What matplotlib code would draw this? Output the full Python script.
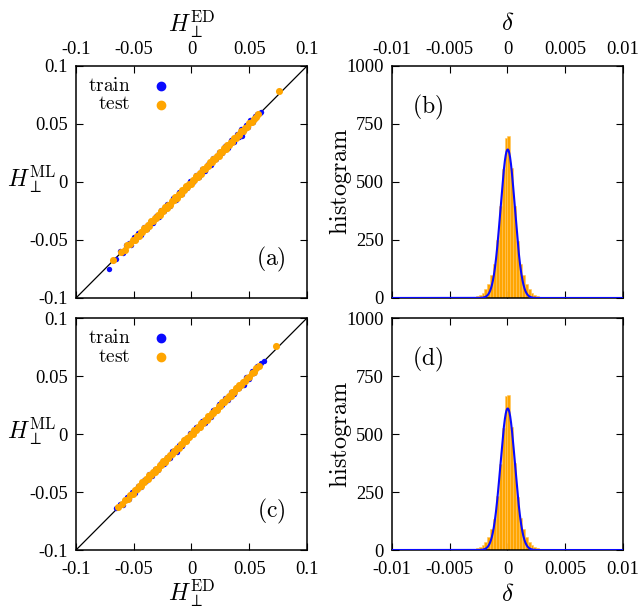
import numpy as np
import matplotlib
matplotlib.use("Agg")
import matplotlib.pyplot as plt

plt.rcParams['font.family'] = 'serif'
plt.rcParams['font.serif'] = ['Liberation Serif']
plt.rcParams['mathtext.fontset'] = 'cm'

# ---- scatter data: H_perp from ED and deviation ML - ED ----
ed_test_a = [-0.0676, -0.0610, -0.0580, -0.0555, -0.0530, -0.0510, -0.0490, -0.0470, -0.0455, -0.0440,
             -0.0425, -0.0410, -0.0395, -0.0380, -0.0365, -0.0350, -0.0335, -0.0320, -0.0305, -0.0290,
             -0.0275, -0.0260, -0.0245, -0.0230, -0.0215, -0.0200, -0.0185, -0.0170, -0.0155, -0.0140,
             -0.0125, -0.0110, -0.0095, -0.0080, -0.0065, -0.0050, -0.0035, -0.0020, -0.0005, 0.0010,
             0.0025, 0.0040, 0.0055, 0.0070, 0.0085, 0.0100, 0.0115, 0.0130, 0.0145, 0.0160,
             0.0175, 0.0190, 0.0205, 0.0220, 0.0235, 0.0250, 0.0265, 0.0280, 0.0295, 0.0310,
             0.0325, 0.0340, 0.0355, 0.0370, 0.0385, 0.0400, 0.0415, 0.0430, 0.0445, 0.0460,
             0.0480, 0.0500, 0.0520, 0.0540, 0.0560, 0.0580, 0.0755]
dev_test_a = [0.0000, 0.0006, -0.0008, 0.0009, -0.0006, 0.0011, -0.0010, 0.0004, -0.0012, 0.0009,
              -0.0003, 0.0012, -0.0008, 0.0006, -0.0011, 0.0010, -0.0005, 0.0013, -0.0009, 0.0003,
              -0.0012, 0.0009, -0.0007, 0.0012, -0.0010, 0.0005, -0.0013, 0.0008, -0.0004, 0.0011,
              -0.0009, 0.0007, -0.0012, 0.0010, -0.0006, 0.0012, -0.0008, 0.0004, -0.0011, 0.0009,
              -0.0007, 0.0012, -0.0010, 0.0006, -0.0012, 0.0008, -0.0005, 0.0011, -0.0009, 0.0010,
              -0.0006, 0.0012, -0.0010, 0.0005, -0.0011, 0.0009, -0.0008, 0.0011, -0.0007, 0.0010,
              -0.0009, 0.0006, -0.0010, 0.0008, -0.0005, 0.0009, -0.0007, 0.0006, -0.0008, 0.0005,
              -0.0006, 0.0007, -0.0004, 0.0006, 0.0003, 0.0008, 0.0031]
ed_train_a = [-0.0711, -0.0650, -0.0620, -0.0590, -0.0565, -0.0545, -0.0520, -0.0500, -0.0480, -0.0460,
              -0.0435, -0.0410, -0.0385, -0.0360, -0.0335, -0.0310, -0.0285, -0.0260, -0.0235, -0.0210,
              -0.0185, -0.0160, -0.0135, -0.0110, -0.0085, -0.0060, -0.0035, -0.0010, 0.0015, 0.0040,
              0.0065, 0.0090, 0.0115, 0.0140, 0.0165, 0.0190, 0.0215, 0.0240, 0.0265, 0.0290,
              0.0315, 0.0340, 0.0365, 0.0390, 0.0410, 0.0430, 0.0450, 0.0470, 0.0490, 0.0510,
              0.0530, 0.0550, 0.0570, 0.0590, 0.0605, 0.0440]
dev_train_a = [-0.0035, -0.0010, 0.0024, -0.0020, 0.0022, 0.0018, -0.0021, 0.0023, -0.0014, 0.0020,
               -0.0019, 0.0021, -0.0018, 0.0019, -0.0020, 0.0018, -0.0019, 0.0020, -0.0018, 0.0019,
               -0.0020, 0.0018, -0.0019, 0.0020, -0.0018, 0.0019, -0.0020, 0.0018, -0.0019, 0.0020,
               -0.0018, 0.0019, -0.0020, 0.0018, -0.0019, 0.0020, -0.0018, 0.0021, -0.0019, 0.0022,
               -0.0020, 0.0023, -0.0021, 0.0024, -0.0022, 0.0026, -0.0023, 0.0025, -0.0020, 0.0022,
               -0.0017, 0.0020, 0.0014, 0.0008, 0.0002, -0.0042]

ed_test_c = [-0.0640, -0.0600, -0.0575, -0.0550, -0.0530, -0.0510, -0.0490, -0.0470, -0.0455, -0.0440,
             -0.0425, -0.0410, -0.0395, -0.0380, -0.0365, -0.0350, -0.0335, -0.0320, -0.0305, -0.0290,
             -0.0275, -0.0260, -0.0245, -0.0230, -0.0215, -0.0200, -0.0185, -0.0170, -0.0155, -0.0140,
             -0.0125, -0.0110, -0.0095, -0.0080, -0.0065, -0.0050, -0.0035, -0.0020, -0.0005, 0.0010,
             0.0025, 0.0040, 0.0055, 0.0070, 0.0085, 0.0100, 0.0115, 0.0130, 0.0145, 0.0160,
             0.0175, 0.0190, 0.0205, 0.0220, 0.0235, 0.0250, 0.0265, 0.0280, 0.0295, 0.0310,
             0.0325, 0.0340, 0.0355, 0.0370, 0.0385, 0.0400, 0.0415, 0.0430, 0.0445, 0.0460,
             0.0480, 0.0500, 0.0520, 0.0540, 0.0560, 0.0585, 0.0733]
dev_test_c = [0.0008, -0.0004, 0.0009, -0.0006, 0.0008, -0.0009, 0.0005, -0.0008, 0.0009, -0.0005,
              0.0010, -0.0007, 0.0006, -0.0009, 0.0008, -0.0004, 0.0010, -0.0008, 0.0004, -0.0010,
              0.0008, -0.0006, 0.0010, -0.0009, 0.0005, -0.0010, 0.0007, -0.0004, 0.0009, -0.0008,
              0.0006, -0.0010, 0.0009, -0.0005, 0.0010, -0.0007, 0.0004, -0.0009, 0.0008, -0.0006,
              0.0010, -0.0008, 0.0006, -0.0010, 0.0007, -0.0005, 0.0009, -0.0008, 0.0009, -0.0005,
              0.0010, -0.0009, 0.0005, -0.0010, 0.0008, -0.0007, 0.0010, -0.0006, 0.0009, -0.0008,
              0.0006, -0.0009, 0.0007, -0.0005, 0.0008, -0.0006, 0.0006, -0.0007, 0.0005, -0.0006,
              0.0007, -0.0005, 0.0008, -0.0004, 0.0006, 0.0003, 0.0023]
ed_train_c = [-0.0650, -0.0615, -0.0590, -0.0560, -0.0540, -0.0515, -0.0490, -0.0465, -0.0440, -0.0415,
              -0.0390, -0.0365, -0.0340, -0.0315, -0.0290, -0.0265, -0.0240, -0.0215, -0.0190, -0.0165,
              -0.0124, -0.0110, -0.0085, -0.0060, -0.0035, -0.0010, 0.0015, 0.0040, 0.0065, 0.0090,
              0.0115, 0.0140, 0.0165, 0.0190, 0.0215, 0.0240, 0.0265, 0.0290, 0.0315, 0.0340,
              0.0365, 0.0390, 0.0415, 0.0451, 0.0470, 0.0495, 0.0520, 0.0545, 0.0570, 0.0600,
              0.0625]
dev_train_c = [0.0012, 0.0010, -0.0018, 0.0020, -0.0017, 0.0018, -0.0019, 0.0017, -0.0018, 0.0019,
               -0.0017, 0.0018, -0.0019, 0.0017, -0.0018, 0.0019, -0.0017, 0.0018, -0.0019, 0.0017,
               -0.0027, 0.0018, -0.0017, 0.0019, -0.0018, 0.0017, -0.0019, 0.0018, -0.0017, 0.0019,
               -0.0018, 0.0017, -0.0019, 0.0018, -0.0017, 0.0019, -0.0018, 0.0017, -0.0019, 0.0018,
               -0.0017, 0.0019, -0.0018, -0.0028, 0.0020, -0.0019, 0.0021, -0.0018, 0.0020, 0.0010,
               0.0002]

# ---- histogram data (bins of width 0.00025 from -0.004 to 0.004) ----
hist_b = [1, 2, 3, 4, 6, 9, 14, 22, 38, 62, 100, 145, 250, 395, 555, 690,
          700, 560, 395, 245, 145, 100, 62, 38, 22, 14, 9, 6, 4, 3, 2, 1]
hist_d = [1, 1, 2, 3, 5, 8, 12, 20, 34, 56, 92, 135, 235, 370, 525, 665,
          668, 530, 375, 230, 138, 92, 58, 34, 20, 12, 8, 5, 3, 2, 1, 1]
# gaussian fits: amplitude, mean, sigma
fit_b = (640, 0.00002, 0.00062)
fit_d = (610, 0.00002, 0.00063)

h_ticks = [-0.1, -0.05, 0, 0.05, 0.1]
h_labels = ['-0.1', '-0.05', '0', '0.05', '0.1']
d_ticks = [-0.01, -0.005, 0, 0.005, 0.01]
d_labels = ['-0.01', '-0.005', '0', '0.005', '0.01']
c_ticks = [0, 250, 500, 750, 1000]
c_labels = ['0', '250', '500', '750', '1000']

BLUE = '#0a0aff'
ORANGE = '#ffa500'

fig = plt.figure(figsize=(6.4, 6.11), dpi=100)
ax_a = fig.add_axes([0.11875, 0.5123, 0.3609, 0.3797])
ax_c = fig.add_axes([0.11875, 0.0998, 0.3609, 0.3797])
ax_b = fig.add_axes([0.6125, 0.5123, 0.3609, 0.3797])
ax_d = fig.add_axes([0.6125, 0.0998, 0.3609, 0.3797])


def style(ax, top):
    ax.tick_params(direction='in', top=True, right=True, length=5, width=0.8,
                   labelsize=13.3, labeltop=top, labelbottom=not top)
    ax.tick_params(axis='x', pad=6 if top else 8)
    ax.tick_params(axis='y', pad=6)
    for s in ax.spines.values():
        s.set_linewidth(1.1)


def scatter_panel(ax, ed_tr, dev_tr, ed_te, dev_te, tag, top):
    ed_tr = np.array(ed_tr)
    ed_te = np.array(ed_te)
    ax.plot(h_ticks[::4], h_ticks[::4], color='black', lw=0.9, zorder=1)
    ax.scatter(ed_tr, ed_tr + np.array(dev_tr), s=15, color=BLUE, lw=0, zorder=2)
    ax.scatter(ed_te, ed_te + np.array(dev_te), s=26, color=ORANGE, lw=0, zorder=3)
    ax.set_xlim(-0.1, 0.1)
    ax.set_ylim(-0.1, 0.1)
    ax.set_xticks(h_ticks)
    ax.set_xticklabels(h_labels)
    ax.set_yticks(h_ticks)
    ax.set_yticklabels(h_labels)
    style(ax, top)
    # legend
    ax.plot([0.368], [0.914], 'o', ms=6, color=BLUE, transform=ax.transAxes)
    ax.plot([0.368], [0.832], 'o', ms=6, color=ORANGE, transform=ax.transAxes)
    ax.text(0.235, 0.914, r'$\mathrm{train}$', transform=ax.transAxes, ha='right', va='center', fontsize=14)
    ax.text(0.235, 0.832, r'$\mathrm{test}$', transform=ax.transAxes, ha='right', va='center', fontsize=14)
    ax.text(0.845, 0.165, r'$\mathrm{(%s)}$' % tag, transform=ax.transAxes, ha='center', va='center', fontsize=17)
    ax.set_ylabel(r'$H_\perp^{\rm ML}$', rotation=0, fontsize=17, ha='center', va='center')
    ax.yaxis.set_label_coords(-0.19, 0.51)
    if top:
        ax.xaxis.set_label_position('top')
        ax.set_xlabel(r'$H_\perp^{\rm ED}$', fontsize=17, labelpad=6)
    else:
        ax.set_xlabel(r'$H_\perp^{\rm ED}$', fontsize=17, labelpad=0)


def hist_panel(ax, counts, fit, tag, top):
    edges = np.linspace(-0.004, 0.004, len(counts) + 1)
    centers = 0.5 * (edges[:-1] + edges[1:])
    ax.bar(centers, counts, width=edges[1] - edges[0], color=ORANGE,
           edgecolor='#ffc55a', linewidth=0.4, zorder=2)
    amp, mu, sig = fit
    xs = np.linspace(-0.01, 0.01, 1601)
    ax.plot(xs, amp * np.exp(-(xs - mu) ** 2 / (2 * sig ** 2)), color=BLUE, lw=1.5, zorder=3)
    ax.set_xlim(-0.01, 0.01)
    ax.set_ylim(0, 1000)
    ax.set_xticks(d_ticks)
    ax.set_xticklabels(d_labels)
    ax.set_yticks(c_ticks)
    ax.set_yticklabels(c_labels)
    style(ax, top)
    ax.text(0.152, 0.82, r'$\mathrm{(%s)}$' % tag, transform=ax.transAxes, ha='center', va='center', fontsize=17)
    ax.set_ylabel(r'$\mathrm{histogram}$', fontsize=17.5, va='center')
    ax.yaxis.set_label_coords(-0.225, 0.5)
    if top:
        ax.xaxis.set_label_position('top')
        ax.set_xlabel(r'$\delta$', fontsize=18, labelpad=8)
    else:
        ax.set_xlabel(r'$\delta$', fontsize=18, labelpad=4)


scatter_panel(ax_a, ed_train_a, dev_train_a, ed_test_a, dev_test_a, 'a', True)
scatter_panel(ax_c, ed_train_c, dev_train_c, ed_test_c, dev_test_c, 'c', False)
hist_panel(ax_b, hist_b, fit_b, 'b', True)
hist_panel(ax_d, hist_d, fit_d, 'd', False)

fig.savefig('out.png', dpi=100)
